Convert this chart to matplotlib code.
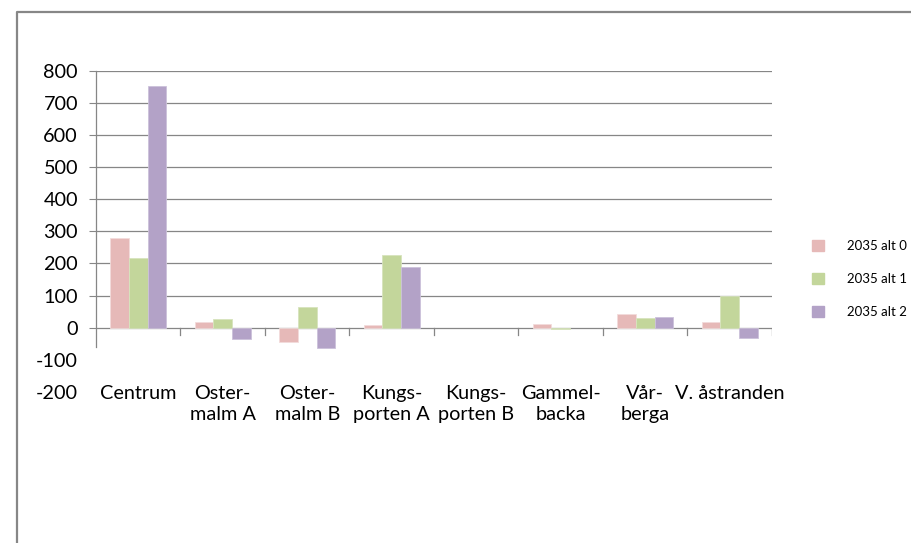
import matplotlib
matplotlib.use("Agg")
import matplotlib.pyplot as plt
from matplotlib.lines import Line2D
from matplotlib.patches import Patch
import numpy as np

plt.rcParams['font.family'] = ['Lato', 'DejaVu Sans']

categories = ["Centrum", "Oster-\nmalm A", "Oster-\nmalm B", "Kungs-\nporten A",
              "Kungs-\nporten B", "Gammel-\nbacka", "Vår-\nberga", "V. åstranden"]
series_names = ["2035 alt 0", "2035 alt 1", "2035 alt 2"]
alt0 = [278, 19, -45, 7, 0, 12, 42, 17]
alt1 = [216, 26, 64, 226, 0, -4, 29, 99]
alt2 = [753, -35, -62, 188, 0, 0, 32, -31]
y_ticks = [-200, -100, 0, 100, 200, 300, 400, 500, 600, 700, 800]

colors = ["#E6B9B8", "#C3D69B", "#B3A2C7"]
edge_colors = ["#F2DCDB", "#D7E4BD", "#CCC1DA"]
grid_color = "#868686"

W, H = 912, 543
fig = plt.figure(figsize=(W / 100, H / 100), dpi=100)

# outer chart frame (left and top edges)
fig.add_artist(Line2D([17 / W, 17 / W, 1.0], [0.0, 1 - 12 / H, 1 - 12 / H],
                      transform=fig.transFigure, color="#878787", lw=1.6))

left, right = 96 / W, 772 / W
bottom, top = 1 - 392 / H, 1 - 70.7 / H
ax = fig.add_axes([left, bottom, right - left, top - bottom])

n = len(categories)
x = np.arange(n)
bw = 0.221
for i, vals in enumerate([alt0, alt1, alt2]):
    edges = [edge_colors[i] if v != 0 else "none" for v in vals]
    ax.bar(x + (i - 1) * bw, vals, width=bw, color=colors[i],
           edgecolor=edges, linewidth=0.6, zorder=3)

ax.set_xlim(-0.5, n - 0.5)
ax.set_ylim(-200, 800)

# horizontal gridlines for positive values
for v in y_ticks:
    if v > 0:
        ax.axhline(v, color=grid_color, lw=0.9, zorder=1)

# category axis at zero with dividers
ax.axhline(0, color=grid_color, lw=0.9, zorder=2)
for b in np.arange(0.5, n, 1.0):
    ax.plot([b, b], [0, -22], color=grid_color, lw=0.9, zorder=2)

for s in ["top", "right", "bottom"]:
    ax.spines[s].set_visible(False)
ax.spines["left"].set_color(grid_color)
ax.spines["left"].set_linewidth(0.9)
ax.spines["left"].set_bounds(-59, 800)

ax.set_yticks(y_ticks)
ax.set_yticklabels([str(v) for v in y_ticks])
ax.tick_params(axis="y", length=5, color=grid_color, pad=8, labelsize=14.3,
               labelcolor="#000000")
for tk, v in zip(ax.yaxis.get_major_ticks(), y_ticks):
    if v < 0:
        tk.tick1line.set_visible(False)

ax.set_xticks(x)
ax.set_xticklabels(categories, linespacing=1.3)
ax.tick_params(axis="x", length=0, pad=-5, labelsize=14.3, labelcolor="#000000")

handles = [Patch(facecolor=c, edgecolor=c) for c in colors]
fig.legend(handles, series_names, loc="upper left",
           bbox_to_anchor=(800 / W, 1 - 228 / H), frameon=False,
           fontsize=9.5, handlelength=0.9, handleheight=0.9,
           handletextpad=1.8, labelspacing=1.6)

fig.savefig("out.png", dpi=100)
